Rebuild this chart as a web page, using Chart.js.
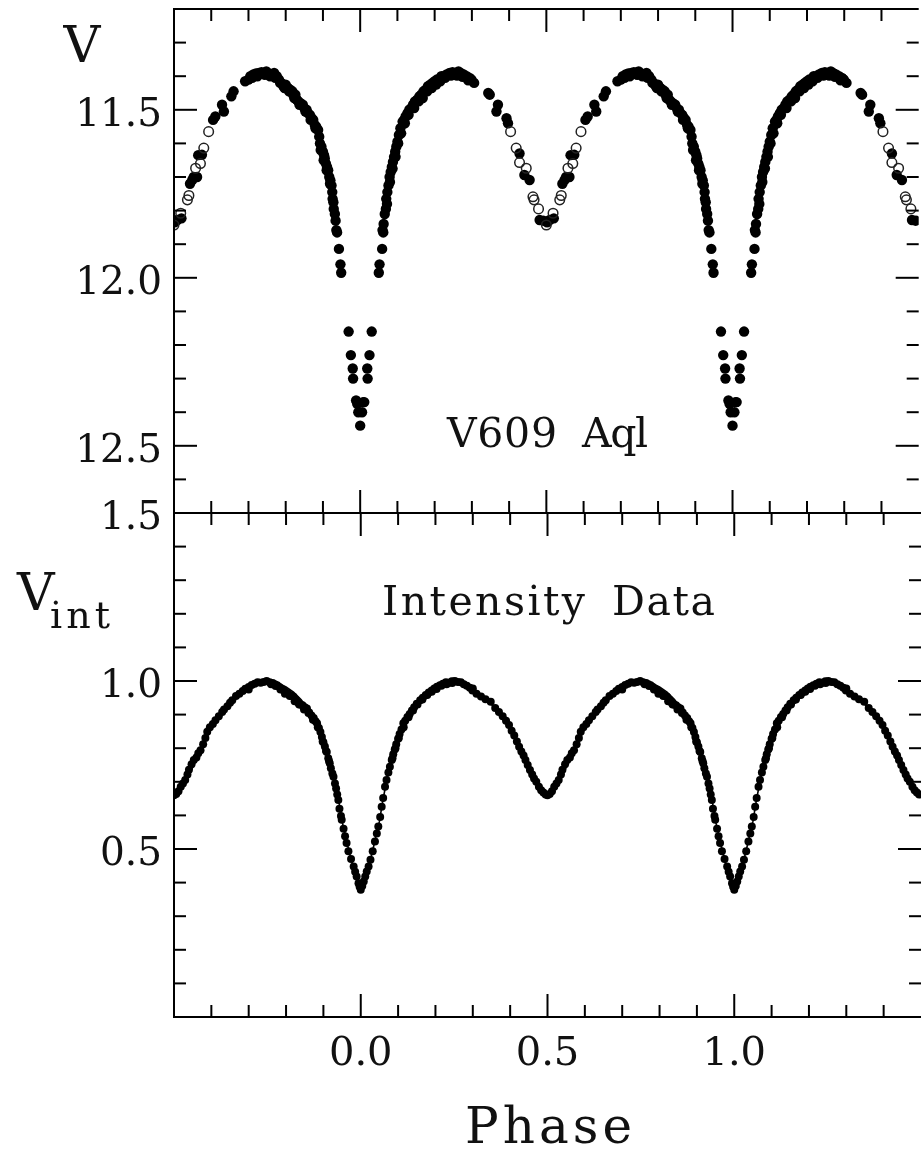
<!DOCTYPE html>
<html>
<head>
<meta charset="utf-8">
<script src="https://cdn.jsdelivr.net/npm/chart.js@4.4.1/dist/chart.umd.min.js"></script>
<style>
  html, body { margin: 0; padding: 0; background: #fff; overflow: hidden; }
  #quadro { position: relative; width: 921px; height: 1152px; overflow: hidden; }
  canvas { position: absolute; left: 0; top: 0; }
</style>
</head>
<body>
<div id="quadro">
<canvas id="GraficoV" width="925" height="1152" style="width:925px;height:1152px"></canvas>
<canvas id="GraficoInt" width="925" height="1152" style="width:925px;height:1152px"></canvas>
</div>
<script>
// one cycle of phase (-0.5 .. 0.5), plotted twice (phase and phase + 1)
var phaseFilled = [
  -0.498, -0.491, -0.480, -0.457, -0.451, -0.447, -0.438, -0.435, -0.425, -0.395,
  -0.389, -0.371, -0.366, -0.346, -0.340, -0.309, -0.300, -0.295, -0.287, -0.280,
  -0.272, -0.265, -0.260, -0.252, -0.245, -0.238, -0.231, -0.224, -0.218, -0.212,
  -0.206, -0.200, -0.194, -0.188, -0.182, -0.180, -0.174, -0.170, -0.166, -0.160,
  -0.154, -0.150, -0.144, -0.140, -0.135, -0.130, -0.126, -0.122, -0.118, -0.113,
  -0.110, -0.108, -0.104, -0.100, -0.097, -0.095, -0.092, -0.089, -0.086, -0.083,
  -0.080, -0.077, -0.075, -0.074, -0.071, -0.068, -0.066, -0.064, -0.057, -0.053,
  -0.051, -0.031, -0.025, -0.020, -0.019, -0.011, -0.008, -0.005, 0.000, 0.005,
  0.008, 0.011, 0.019, 0.020, 0.025, 0.031, 0.050, 0.052, 0.059, 0.060,
  0.063, 0.066, 0.069, 0.070, 0.073, 0.076, 0.079, 0.082, 0.085, 0.088,
  0.091, 0.094, 0.097, 0.100, 0.104, 0.108, 0.114, 0.118, 0.122, 0.127,
  0.132, 0.137, 0.142, 0.147, 0.153, 0.159, 0.164, 0.170, 0.176, 0.182,
  0.188, 0.194, 0.200, 0.206, 0.212, 0.218, 0.225, 0.232, 0.240, 0.248,
  0.256, 0.264, 0.270, 0.278, 0.286, 0.294, 0.299, 0.306, 0.344, 0.348,
  0.366, 0.370, 0.393, 0.397, 0.428, 0.441, 0.455, 0.482, 0.492,
  -0.242, -0.228, -0.215, -0.203, -0.191, -0.177, -0.163, -0.147, -0.133, -0.120,
  -0.106, -0.098, -0.090, -0.081, -0.072, -0.062, 0.062, 0.072, 0.080, 0.087,
  0.095, 0.102, 0.110, 0.120, 0.130, 0.145, 0.157, 0.168, 0.180, 0.192,
  0.204, 0.215, 0.228, 0.244, 0.260, 0.275, -0.276, -0.256, 0.290, -0.290
];
var magFilled = [
  11.835, 11.828, 11.823, 11.720, 11.709, 11.700, 11.700, 11.635, 11.634, 11.530,
  11.520, 11.485, 11.505, 11.460, 11.445, 11.415, 11.410, 11.400, 11.395, 11.392,
  11.390, 11.388, 11.390, 11.386, 11.392, 11.395, 11.390, 11.400, 11.410, 11.420,
  11.430, 11.425, 11.435, 11.440, 11.445, 11.455, 11.455, 11.470, 11.475, 11.480,
  11.485, 11.495, 11.500, 11.510, 11.515, 11.525, 11.530, 11.545, 11.550, 11.560,
  11.580, 11.600, 11.610, 11.625, 11.635, 11.645, 11.660, 11.670, 11.680, 11.700,
  11.710, 11.725, 11.745, 11.765, 11.795, 11.810, 11.830, 11.858, 11.914, 11.960,
  11.985, 12.160, 12.230, 12.270, 12.300, 12.365, 12.375, 12.400, 12.440, 12.400,
  12.370, 12.370, 12.270, 12.300, 12.230, 12.160, 11.985, 11.960, 11.914, 11.858,
  11.840, 11.810, 11.795, 11.765, 11.745, 11.725, 11.700, 11.685, 11.670, 11.655,
  11.640, 11.625, 11.610, 11.595, 11.575, 11.555, 11.535, 11.530, 11.520, 11.510,
  11.500, 11.495, 11.485, 11.475, 11.470, 11.460, 11.455, 11.445, 11.440, 11.430,
  11.425, 11.420, 11.415, 11.410, 11.410, 11.400, 11.400, 11.395, 11.390, 11.388,
  11.390, 11.386, 11.390, 11.395, 11.400, 11.405, 11.410, 11.420, 11.450, 11.455,
  11.505, 11.485, 11.525, 11.540, 11.630, 11.694, 11.709, 11.828, 11.830,
  11.400, 11.405, 11.420, 11.435, 11.445, 11.465, 11.485, 11.505, 11.530, 11.555,
  11.620, 11.650, 11.680, 11.720, 11.775, 11.865, 11.865, 11.780, 11.715, 11.675,
  11.640, 11.600, 11.570, 11.540, 11.515, 11.495, 11.475, 11.465, 11.445, 11.435,
  11.425, 11.415, 11.405, 11.398, 11.398, 11.402, 11.400, 11.396, 11.412, 11.405
];
var phaseOpen = [-0.500, -0.482, -0.464, -0.460, -0.442, -0.429, -0.420, -0.407,
  0.404, 0.419, 0.428, 0.446, 0.464, 0.467, 0.479];
var magOpen = [11.843, 11.808, 11.768, 11.755, 11.674, 11.660, 11.614, 11.565,
  11.565, 11.614, 11.657, 11.674, 11.759, 11.768, 11.795];

var phaseInt = [
  -0.500, -0.494, -0.488, -0.482, -0.476, -0.470, -0.464, -0.460, -0.453, -0.447,
  -0.440, -0.435, -0.429, -0.422, -0.416, -0.411, -0.404, -0.396, -0.389, -0.380,
  -0.371, -0.366, -0.357, -0.350, -0.344, -0.334, -0.325, -0.316, -0.309, -0.300,
  -0.292, -0.284, -0.276, -0.268, -0.260, -0.252, -0.244, -0.236, -0.230, -0.224,
  -0.218, -0.212, -0.206, -0.200, -0.194, -0.186, -0.180, -0.174, -0.168, -0.162,
  -0.156, -0.150, -0.144, -0.138, -0.132, -0.126, -0.121, -0.117, -0.112, -0.108,
  -0.104, -0.100, -0.096, -0.091, -0.087, -0.083, -0.080, -0.076, -0.073, -0.069,
  -0.066, -0.063, -0.060, -0.057, -0.053, -0.051, -0.046, -0.042, -0.038, -0.033,
  -0.026, -0.019, -0.015, -0.011, -0.006, -0.003, 0.000, 0.004, 0.008, 0.012,
  0.016, 0.021, 0.026, 0.032, 0.038, 0.043, 0.047, 0.052, 0.056, 0.060,
  0.065, 0.069, 0.074, 0.078, 0.083, 0.087, 0.091, 0.095, 0.100, 0.104,
  0.109, 0.114, 0.119, 0.125, 0.131, 0.137, 0.143, 0.150, 0.159, 0.166,
  0.174, 0.182, 0.190, 0.197, 0.204, 0.212, 0.220, 0.228, 0.236, 0.244,
  0.252, 0.260, 0.268, 0.276, 0.284, 0.292, 0.299, 0.310, 0.322, 0.334,
  0.348, 0.360, 0.370, 0.380, 0.389, 0.397, 0.404, 0.411, 0.418, 0.424,
  0.430, 0.436, 0.441, 0.447, 0.453, 0.459, 0.464, 0.470, 0.477, 0.483,
  0.489, 0.495,
  -0.240, -0.228, -0.215, -0.203, -0.190, -0.177, -0.165, -0.152, -0.140, -0.128,
  -0.115, -0.102, -0.093, -0.085, 0.085, 0.093, 0.102, 0.115, 0.128, 0.140,
  0.152, 0.165, 0.178, 0.190, 0.203, 0.216, 0.230, 0.245, -0.300, 0.300
];
var fluxInt = [
  0.660, 0.664, 0.672, 0.685, 0.695, 0.705, 0.722, 0.736, 0.752, 0.765,
  0.772, 0.785, 0.794, 0.812, 0.830, 0.849, 0.862, 0.872, 0.883, 0.895,
  0.908, 0.915, 0.925, 0.935, 0.943, 0.955, 0.962, 0.970, 0.977, 0.982,
  0.988, 0.992, 0.996, 0.995, 0.997, 1.000, 0.996, 0.994, 0.990, 0.987,
  0.982, 0.976, 0.972, 0.966, 0.962, 0.956, 0.953, 0.944, 0.936, 0.930,
  0.928, 0.922, 0.918, 0.906, 0.897, 0.890, 0.880, 0.874, 0.860, 0.848,
  0.833, 0.818, 0.805, 0.789, 0.770, 0.755, 0.740, 0.725, 0.715, 0.695,
  0.680, 0.662, 0.646, 0.620, 0.598, 0.587, 0.560, 0.538, 0.518, 0.493,
  0.470, 0.448, 0.432, 0.418, 0.398, 0.388, 0.379, 0.390, 0.403, 0.418,
  0.433, 0.448, 0.468, 0.493, 0.522, 0.546, 0.567, 0.595, 0.626, 0.652,
  0.685, 0.705, 0.728, 0.745, 0.765, 0.782, 0.796, 0.812, 0.828, 0.842,
  0.856, 0.874, 0.882, 0.893, 0.902, 0.912, 0.922, 0.932, 0.943, 0.950,
  0.958, 0.966, 0.972, 0.978, 0.983, 0.987, 0.992, 0.996, 0.995, 0.999,
  1.000, 0.997, 0.996, 0.990, 0.986, 0.980, 0.972, 0.962, 0.954, 0.946,
  0.938, 0.920, 0.908, 0.895, 0.882, 0.869, 0.852, 0.838, 0.820, 0.804,
  0.790, 0.778, 0.765, 0.750, 0.735, 0.722, 0.710, 0.700, 0.685, 0.675,
  0.668, 0.662,
  0.990, 0.985, 0.975, 0.962, 0.955, 0.940, 0.930, 0.915, 0.905, 0.885,
  0.862, 0.820, 0.792, 0.762, 0.770, 0.800, 0.830, 0.862, 0.892, 0.912,
  0.930, 0.945, 0.958, 0.968, 0.976, 0.986, 0.990, 0.994, 0.975, 0.978
];

var phaseModel = [
  -0.50, -0.48, -0.46, -0.44, -0.42, -0.40, -0.38, -0.36, -0.34, -0.32,
  -0.30, -0.28, -0.26, -0.24, -0.22, -0.20, -0.18, -0.16, -0.14, -0.12,
  -0.11, -0.10, -0.09, -0.08, -0.07, -0.06, -0.05, -0.04, -0.03, -0.02,
  -0.01, 0.00, 0.01, 0.02, 0.03, 0.04, 0.05, 0.06, 0.07, 0.08,
  0.09, 0.10, 0.11, 0.12, 0.14, 0.16, 0.18, 0.20, 0.22, 0.24,
  0.26, 0.28, 0.30, 0.32, 0.34, 0.36, 0.38, 0.40, 0.42, 0.44,
  0.46, 0.48, 0.50
];
var fluxModel = [
  0.660, 0.680, 0.718, 0.767, 0.815, 0.858, 0.891, 0.918, 0.942, 0.962,
  0.978, 0.991, 0.998, 0.998, 0.993, 0.982, 0.967, 0.945, 0.916, 0.879,
  0.855, 0.826, 0.792, 0.753, 0.706, 0.650, 0.582, 0.535, 0.486, 0.448,
  0.414, 0.381, 0.414, 0.448, 0.486, 0.535, 0.582, 0.650, 0.706, 0.753,
  0.792, 0.826, 0.855, 0.879, 0.916, 0.945, 0.967, 0.982, 0.993, 0.998,
  0.998, 0.991, 0.978, 0.962, 0.942, 0.918, 0.891, 0.858, 0.815, 0.767,
  0.718, 0.680, 0.660
];

var xTickValues = [0.0, 0.5, 1.0];
var xTickLabels = ['0.0', '0.5', '1.0'];
var vTickValues = [11.5, 12.0, 12.5];
var vTickLabels = ['11.5', '12.0', '12.5'];
var intTickValues = [0.5, 1.0, 1.5];
var intTickLabels = ['0.5', '1.0', '1.5'];

var FONTE = '"DejaVu Serif", serif';

function MontarPontos(fases, valores) {
    var pontos = [];
    var indice = 0;
    while (indice < fases.length) {
        pontos.push({ x: fases[indice], y: valores[indice] });
        pontos.push({ x: fases[indice] + 1, y: valores[indice] });
        indice++;
    }
    return pontos;
}

function MontarLinha(fases, valores) {
    var pontos = [];
    var copia, indice;
    for (copia = 0; copia < 2; copia++) {
        for (indice = (copia === 0 ? 0 : 1); indice < fases.length; indice++) {
            pontos.push({ x: fases[indice] + copia, y: valores[indice] });
        }
    }
    return pontos;
}

function Texto(ctx, texto, x, y, tamanho, largura, alinhar) {
    ctx.font = tamanho + 'px ' + FONTE;
    ctx.textAlign = alinhar || 'left';
    ctx.textBaseline = 'alphabetic';
    ctx.letterSpacing = '0px';
    if (largura) {
        var w = ctx.measureText(texto).width;
        ctx.letterSpacing = ((largura - w) / (texto.length - 1)) + 'px';
    }
    ctx.fillText(texto, x, y);
    ctx.letterSpacing = '0px';
}

function Linha(ctx, x1, y1, x2, y2) {
    ctx.beginPath();
    ctx.moveTo(x1, y1);
    ctx.lineTo(x2, y2);
    ctx.stroke();
}

// frame (right side falls outside the picture), inward ticks, labels
function MolduraPlugin(conf) {
    return {
        id: 'moldura',
        afterDraw: function (chart) {
            var ctx = chart.ctx;
            var area = chart.chartArea;
            var sx = chart.scales.x;
            var sy = chart.scales.y;
            var direita = sx.getPixelForValue(1.5);
            var i, p, len;

            ctx.save();
            ctx.strokeStyle = '#000';
            ctx.fillStyle = '#000';
            ctx.lineWidth = 2;
            Linha(ctx, area.left, area.top, direita, area.top);
            Linha(ctx, area.left, area.bottom, direita, area.bottom);
            Linha(ctx, area.left, area.top - 1, area.left, area.bottom + 1);

            for (i = -4; i <= 14; i++) {
                p = sx.getPixelForValue(i / 10);
                len = (i % 5 === 0) ? 23 : 12;
                Linha(ctx, p, area.top, p, area.top + len);
                Linha(ctx, p, area.bottom, p, area.bottom - len);
            }
            for (i = conf.yIni + 1; i < conf.yFim; i++) {
                p = sy.getPixelForValue(i / 10);
                len = (i % 5 === 0) ? 23 : 12;
                Linha(ctx, area.left, p, area.left + len, p);
                Linha(ctx, direita, p, direita - len, p);
            }

            ctx.fillStyle = '#111';
            for (i = 0; i < conf.yValores.length; i++) {
                p = sy.getPixelForValue(conf.yValores[i]);
                Texto(ctx, conf.yRotulos[i], 162, p + 16, 39, 0, 'right');
            }

            conf.extra(ctx, sx, sy);
            ctx.restore();
        }
    };
}

new Chart(document.getElementById('GraficoV'), {
    type: 'scatter',
    data: {
        datasets: [{
            label: 'V (open)',
            data: MontarPontos(phaseOpen, magOpen),
            pointRadius: 4.8,
            pointBorderWidth: 1.5,
            borderColor: '#222',
            backgroundColor: 'rgba(255,255,255,0)'
        }, {
            label: 'V',
            data: MontarPontos(phaseFilled, magFilled),
            pointRadius: 5.2,
            pointBorderWidth: 0,
            borderColor: '#000',
            backgroundColor: '#000'
        }]
    },
    options: {
        responsive: false,
        animation: false,
        events: [],
        layout: { padding: { left: 174, top: 9, right: 2, bottom: 639 } },
        scales: {
            x: { type: 'linear', min: -0.5, max: 1.5, display: false },
            y: { type: 'linear', min: 11.2, max: 12.7, reverse: true, display: false }
        },
        plugins: { legend: { display: false }, tooltip: { enabled: false } }
    },
    plugins: [MolduraPlugin({
        yIni: 112, yFim: 127,
        yValores: vTickValues, yRotulos: vTickLabels,
        extra: function (ctx, sx, sy) {
            Texto(ctx, 'V', 82, 62, 51, 0, 'center');
            Texto(ctx, 'V609', 447, 447, 41, 110);
            Texto(ctx, 'Aql', 582, 447, 41, 66);
        }
    })]
});

new Chart(document.getElementById('GraficoInt'), {
    type: 'scatter',
    data: {
        datasets: [{
            label: 'Intensity',
            data: MontarPontos(phaseInt, fluxInt),
            pointRadius: 4,
            pointBorderWidth: 0,
            borderColor: '#000',
            backgroundColor: '#000'
        }, {
            label: 'Model',
            data: MontarLinha(phaseModel, fluxModel),
            showLine: true,
            borderColor: '#000',
            borderWidth: 1.6,
            pointRadius: 0,
            tension: 0
        }]
    },
    options: {
        responsive: false,
        animation: false,
        events: [],
        layout: { padding: { left: 174, top: 513, right: 2, bottom: 135 } },
        scales: {
            x: { type: 'linear', min: -0.5, max: 1.5, display: false },
            y: { type: 'linear', min: 0, max: 1.5, display: false }
        },
        plugins: { legend: { display: false }, tooltip: { enabled: false } }
    },
    plugins: [MolduraPlugin({
        yIni: 0, yFim: 15,
        yValores: intTickValues, yRotulos: intTickLabels,
        extra: function (ctx, sx, sy) {
            var i;
            for (i = 0; i < xTickValues.length; i++) {
                Texto(ctx, xTickLabels[i], sx.getPixelForValue(xTickValues[i]), 1065, 40, 0, 'center');
            }
            Texto(ctx, 'Phase', 465, 1143, 50, 167);
            Texto(ctx, 'Intensity', 382, 615, 41, 203);
            Texto(ctx, 'Data', 612, 615, 41, 103);
            Texto(ctx, 'V', 17, 610, 52);
            Texto(ctx, 'int', 50, 628, 38, 60);
        }
    })]
});
</script>
</body>
</html>
